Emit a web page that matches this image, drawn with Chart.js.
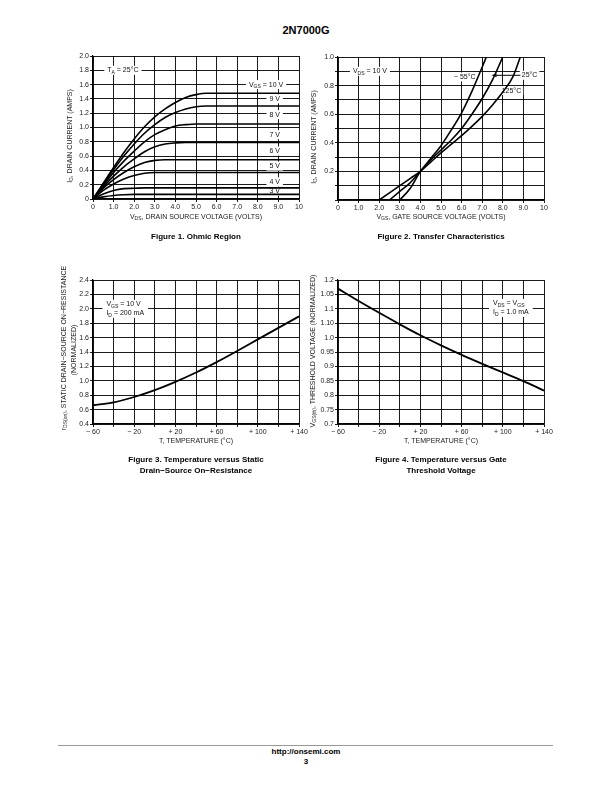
<!DOCTYPE html>
<html>
<head>
<meta charset="utf-8">
<script src="https://cdn.jsdelivr.net/npm/chart.js@4.4.1/dist/chart.umd.min.js"></script>
<style>
  body { margin: 0; background: #fff; }
  #page { position: relative; width: 612px; height: 792px; font-family: "Liberation Sans", Arial, sans-serif; color: #000; overflow: hidden; }
  canvas { position: absolute; }
  .t { position: absolute; white-space: nowrap; font-size: 7px; line-height: 1; color: #222; transform: translate(-50%, -50%); }
  .rot { transform: translate(-50%, -50%) rotate(-90deg); }
  .cap { position: absolute; white-space: nowrap; font-weight: bold; font-size: 8px; line-height: 11px; text-align: center; transform: translateX(-50%); }
  sub { font-size: 5px; vertical-align: -1.5px; }
</style>
</head>
<body>
<div id="page">
  <div class="cap" style="left:306px;top:23px;font-size:11px;line-height:14px;">2N7000G</div>

  <canvas id="fig1"></canvas>
  <canvas id="fig2"></canvas>
  <canvas id="fig3"></canvas>
  <canvas id="fig4"></canvas>

  <!-- figure 1 -->
  <div class="t rot" style="left:70px;top:136px;">I<sub>D</sub>, DRAIN CURRENT (AMPS)</div>
  <div class="t" style="left:196px;top:217px;">V<sub>DS</sub>, DRAIN SOURCE VOLTAGE (VOLTS)</div>
  <div class="cap" style="left:196px;top:231px;">Figure 1. Ohmic Region</div>

  <!-- figure 2 -->
  <div class="t rot" style="left:314px;top:137px;">I<sub>D</sub>, DRAIN CURRENT (AMPS)</div>
  <div class="t" style="left:441px;top:217px;">V<sub>GS</sub>, GATE SOURCE VOLTAGE (VOLTS)</div>
  <div class="cap" style="left:441px;top:231px;">Figure 2. Transfer Characteristics</div>

  <!-- figure 3 -->
  <div class="t rot" style="left:64px;top:348px;">r<sub>DS(on)</sub>, STATIC DRAIN−SOURCE ON−RESISTANCE</div>
  <div class="t rot" style="left:73px;top:350px;">(NORMALIZED)</div>
  <div class="t" style="left:196px;top:440px;">T, TEMPERATURE (°C)</div>
  <div class="cap" style="left:196px;top:454px;">Figure 3. Temperature versus Static<br>Drain−Source On−Resistance</div>

  <!-- figure 4 -->
  <div class="t rot" style="left:313px;top:351px;">V<sub>GS(th)</sub>, THRESHOLD VOLTAGE (NORMALIZED)</div>
  <div class="t" style="left:441px;top:440px;">T, TEMPERATURE (°C)</div>
  <div class="cap" style="left:441px;top:454px;">Figure 4. Temperature versus Gate<br>Threshold Voltage</div>

  <div style="position:absolute;left:58px;top:745px;width:495px;height:0;border-top:1px solid #999;"></div>
  <div class="cap" style="left:306px;top:747px;line-height:10px;">http://onsemi.com<br>3</div>
</div>

<script>
// ---- Figure 1: ohmic region, ID vs VDS for each VGS ----
const vdsPts = [0, 0.5, 1, 1.5, 2, 2.5, 3, 3.5, 4, 4.5, 5, 5.5, 6, 6.5, 7, 7.5, 8, 8.5, 9, 9.5, 10];
const idVgs10 = [0, 0.22, 0.44, 0.65, 0.84, 1.01, 1.15, 1.26, 1.35, 1.42, 1.46, 1.48, 1.48, 1.48, 1.48, 1.48, 1.48, 1.48, 1.48, 1.48, 1.48];
const idVgs9 = [0, 0.21, 0.41, 0.60, 0.77, 0.92, 1.04, 1.14, 1.21, 1.26, 1.29, 1.30, 1.30, 1.30, 1.30, 1.30, 1.30, 1.30, 1.30, 1.30, 1.30];
const idVgs8 = [0, 0.19, 0.37, 0.53, 0.67, 0.80, 0.90, 0.97, 1.02, 1.04, 1.05, 1.05, 1.05, 1.05, 1.05, 1.05, 1.05, 1.05, 1.05, 1.05, 1.05];
const idVgs7 = [0, 0.17, 0.32, 0.45, 0.56, 0.66, 0.73, 0.77, 0.785, 0.79, 0.79, 0.79, 0.79, 0.79, 0.79, 0.79, 0.79, 0.79, 0.79, 0.79, 0.79];
const idVgs6 = [0, 0.15, 0.27, 0.37, 0.45, 0.51, 0.54, 0.55, 0.55, 0.55, 0.55, 0.55, 0.55, 0.55, 0.55, 0.55, 0.55, 0.55, 0.55, 0.55, 0.55];
const idVgs5 = [0, 0.12, 0.21, 0.28, 0.33, 0.36, 0.37, 0.37, 0.37, 0.37, 0.37, 0.37, 0.37, 0.37, 0.37, 0.37, 0.37, 0.37, 0.37, 0.37, 0.37];
const idVgs4 = [0, 0.07, 0.12, 0.145, 0.15, 0.155, 0.155, 0.155, 0.155, 0.155, 0.155, 0.155, 0.155, 0.155, 0.155, 0.155, 0.155, 0.155, 0.155, 0.155, 0.155];
const idVgs3 = [0, 0.03, 0.05, 0.06, 0.065, 0.065, 0.065, 0.065, 0.065, 0.065, 0.065, 0.065, 0.065, 0.065, 0.065, 0.065, 0.065, 0.065, 0.065, 0.065, 0.065];
const fig1XLabels = ['0', '1.0', '2.0', '3.0', '4.0', '5.0', '6.0', '7.0', '8.0', '9.0', '10'];
const fig1YLabels = ['0', '0.2', '0.4', '0.6', '0.8', '1.0', '1.2', '1.4', '1.6', '1.8', '2.0'];

// ---- Figure 2: transfer characteristics ----
const vgsM55 = [3.0, 3.5, 4.0, 4.5, 5.0, 5.5, 6.0, 6.5, 7.0, 7.2];
const idM55 = [0, 0.08, 0.2, 0.29, 0.38, 0.49, 0.61, 0.76, 0.93, 1.0];
const vgs25 = [2.5, 3.0, 3.5, 4.0, 4.5, 5.0, 5.5, 6.0, 6.5, 7.0, 7.5, 8.0];
const id25 = [0, 0.06, 0.12, 0.2, 0.28, 0.35, 0.42, 0.5, 0.6, 0.71, 0.84, 1.0];
const vgs125 = [2.0, 2.5, 3.0, 3.5, 4.0, 4.5, 5.0, 5.5, 6.0, 6.5, 7.0, 7.5, 8.0, 8.5, 8.85];
const id125 = [0, 0.05, 0.1, 0.15, 0.2, 0.265, 0.33, 0.39, 0.45, 0.515, 0.585, 0.665, 0.755, 0.865, 1.0];
const fig2XLabels = ['0', '1.0', '2.0', '3.0', '4.0', '5.0', '6.0', '7.0', '8.0', '9.0', '10'];
const fig2YLabels = ['', '', '0.2', '', '0.4', '', '0.6', '', '0.8', '', '1.0'];

// ---- Figures 3 and 4: temperature dependence ----
const temps = [-60, -40, -20, 0, 20, 40, 60, 80, 100, 120, 140];
const rdsOn = [0.66, 0.70, 0.775, 0.87, 0.985, 1.115, 1.26, 1.415, 1.575, 1.735, 1.895];
const vthNorm = [1.17, 1.127, 1.086, 1.046, 1.008, 0.973, 0.940, 0.909, 0.879, 0.849, 0.816];
const tempLabels = ['− 60', '', '− 20', '', '+ 20', '', '+ 60', '', '+ 100', '', '+ 140'];
const fig3YLabels = ['0.4', '0.6', '0.8', '1.0', '1.2', '1.4', '1.6', '1.8', '2.0', '2.2', '2.4'];
const fig4YLabels = ['0.7', '0.75', '0.8', '0.85', '0.9', '0.95', '1.0', '1.10', '1.1', '1.05', '1.2'];

const FONT = "'Liberation Sans Narrow', 'Arial Narrow', 'Liberation Sans', Arial, sans-serif";

const pts = (xs, ys) => ys.map((y, i) => ({ x: xs[i], y }));
const curve = (data, w) => ({
  data, borderColor: '#000', borderWidth: w || 1.6, pointRadius: 0,
  fill: false, cubicInterpolationMode: 'monotone'
});

// text with subscripts: parts = [[text, isSub], ...]
function partsWidth(ctx, parts) {
  let w = 0;
  for (const [s, sub] of parts) {
    ctx.font = (sub ? 5 : 7) + 'px ' + FONT;
    w += ctx.measureText(s).width;
  }
  return w;
}
function drawParts(ctx, parts, x, y) {
  for (const [s, sub] of parts) {
    ctx.font = (sub ? 5 : 7) + 'px ' + FONT;
    ctx.fillText(s, x, y + (sub ? 2 : 0));
    x += ctx.measureText(s).width;
  }
}
function noteBox(ctx, n, sx, sy) {
  const widths = n.lines.map(l => partsWidth(ctx, l));
  const maxW = Math.max(...widths);
  const lh = 9, pad = n.pad == null ? 3 : n.pad;
  const px = sx.getPixelForValue(n.x), py = sy.getPixelForValue(n.y);
  const left = n.align === 'left' ? px : px - maxW / 2;
  const top = py - n.lines.length * lh / 2;
  return { left, top, lh, maxW, bx: left - pad, by: top, bw: maxW + pad * 2, bh: n.lines.length * lh };
}

function notesPlugin(notes, arrows) {
  return {
    id: 'notes',
    beforeDatasetsDraw(chart) {
      const { ctx, scales } = chart;
      ctx.save();
      ctx.fillStyle = '#fff';
      for (const n of notes) {
        const g = noteBox(ctx, n, scales.x, scales.y);
        ctx.fillRect(g.bx, g.by, g.bw, g.bh);
      }
      ctx.restore();
    },
    afterDatasetsDraw(chart) {
      const { ctx, scales } = chart;
      ctx.save();
      ctx.fillStyle = '#111';
      ctx.textBaseline = 'middle';
      for (const n of notes) {
        const g = noteBox(ctx, n, scales.x, scales.y);
        n.lines.forEach((l, i) => drawParts(ctx, l, g.left, g.top + g.lh * (i + 0.5)));
      }
      ctx.strokeStyle = '#000';
      ctx.lineWidth = 1;
      for (const a of arrows) {
        const x0 = scales.x.getPixelForValue(a.x0), x1 = scales.x.getPixelForValue(a.x1);
        const y = scales.y.getPixelForValue(a.y);
        ctx.beginPath(); ctx.moveTo(x0, y); ctx.lineTo(x1 + 3, y); ctx.stroke();
        ctx.beginPath(); ctx.moveTo(x1, y); ctx.lineTo(x1 + 5, y - 2); ctx.lineTo(x1 + 5, y + 2); ctx.closePath(); ctx.fill();
      }
      ctx.restore();
    }
  };
}

function makeChart(id, plot, datasets, xAx, yAx, notes, arrows) {
  const cv = document.getElementById(id);
  const padL = 40, padT = 8, padR = 14, padB = 18;
  const w = plot[2] - plot[0] + padL + padR, h = plot[3] - plot[1] + padT + padB;
  cv.width = w; cv.height = h;
  cv.style.width = w + 'px'; cv.style.height = h + 'px';
  cv.style.left = (plot[0] - padL) + 'px'; cv.style.top = (plot[1] - padT) + 'px';
  const axis = ax => ({
    type: 'linear', min: ax.min, max: ax.max,
    ticks: {
      stepSize: ax.step, autoSkip: false, maxRotation: 0, padding: 1, color: '#222',
      font: { family: FONT, size: 7 }, callback: (v, i) => ax.labels[i]
    },
    grid: { color: '#000', lineWidth: 0.9, tickLength: 3, tickColor: '#000' },
    border: { color: '#000', width: 1.2 }
  });
  const xs = axis(xAx); xs.afterFit = s => { s.height = padB; };
  const ys = axis(yAx); ys.afterFit = s => { s.width = padL; };
  return new Chart(cv, {
    type: 'line',
    data: { datasets },
    options: {
      responsive: false, animation: false, events: [],
      layout: { padding: { top: padT, right: padR, left: 0, bottom: 0 } },
      plugins: { legend: { display: false }, tooltip: { enabled: false } },
      scales: { x: xs, y: ys }
    },
    plugins: [notesPlugin(notes || [], arrows || [])]
  });
}

makeChart('fig1', [93, 56, 299, 199],
  [idVgs10, idVgs9, idVgs8, idVgs7, idVgs6, idVgs5, idVgs4, idVgs3].map(a => curve(pts(vdsPts, a))),
  { min: 0, max: 10, step: 1, labels: fig1XLabels },
  { min: 0, max: 2, step: 0.2, labels: fig1YLabels },
  [
    { x: 1.45, y: 1.8, lines: [[['T', 0], ['A', 1], [' = 25°C', 0]]] },
    { x: 8.4, y: 1.6, lines: [[['V', 0], ['GS', 1], [' = 10 V', 0]]] },
    { x: 8.82, y: 1.4, lines: [[['9 V', 0]]] },
    { x: 8.82, y: 1.18, lines: [[['8 V', 0]]] },
    { x: 8.82, y: 0.9, lines: [[['7 V', 0]]] },
    { x: 8.82, y: 0.67, lines: [[['6 V', 0]]] },
    { x: 8.82, y: 0.46, lines: [[['5 V', 0]]] },
    { x: 8.82, y: 0.24, lines: [[['4 V', 0]]] },
    { x: 8.82, y: 0.11, lines: [[['3 V', 0]]], pad: 2 }
  ]);

makeChart('fig2', [338, 57, 544, 200],
  [curve(pts(vgsM55, idM55)), curve(pts(vgs25, id25)), curve(pts(vgs125, id125))],
  { min: 0, max: 10, step: 1, labels: fig2XLabels },
  { min: 0, max: 1, step: 0.1, labels: fig2YLabels },
  [
    { x: 1.55, y: 0.9, lines: [[['V', 0], ['DS', 1], [' = 10 V', 0]]] },
    { x: 6.15, y: 0.86, lines: [[['− 55°C', 0]]], pad: 1 },
    { x: 9.3, y: 0.872, lines: [[['25°C', 0]]], pad: 2 },
    { x: 8.42, y: 0.765, lines: [[['125°C', 0]]], pad: 2 }
  ],
  [{ x0: 8.85, x1: 7.45, y: 0.872 }]);

makeChart('fig3', [93, 280, 299, 424],
  [curve(pts(temps, rdsOn), 1.8)],
  { min: -60, max: 140, step: 20, labels: tempLabels },
  { min: 0.4, max: 2.4, step: 0.2, labels: fig3YLabels },
  [
    { x: -47, y: 2.0, align: 'left', pad: 4, lines: [
      [['V', 0], ['GS', 1], [' = 10 V', 0]],
      [['I', 0], ['D', 1], [' = 200 mA', 0]]
    ] }
  ]);

makeChart('fig4', [338, 280, 544, 424],
  [curve(pts(temps, vthNorm), 1.8)],
  { min: -60, max: 140, step: 20, labels: tempLabels },
  { min: 0.7, max: 1.2, step: 0.05, labels: fig4YLabels },
  [
    { x: 90.5, y: 1.103, align: 'left', pad: 4, lines: [
      [['V', 0], ['DS', 1], [' = V', 0], ['GS', 1]],
      [['I', 0], ['D', 1], [' = 1.0 mA', 0]]
    ] }
  ]);
</script>
</body>
</html>
